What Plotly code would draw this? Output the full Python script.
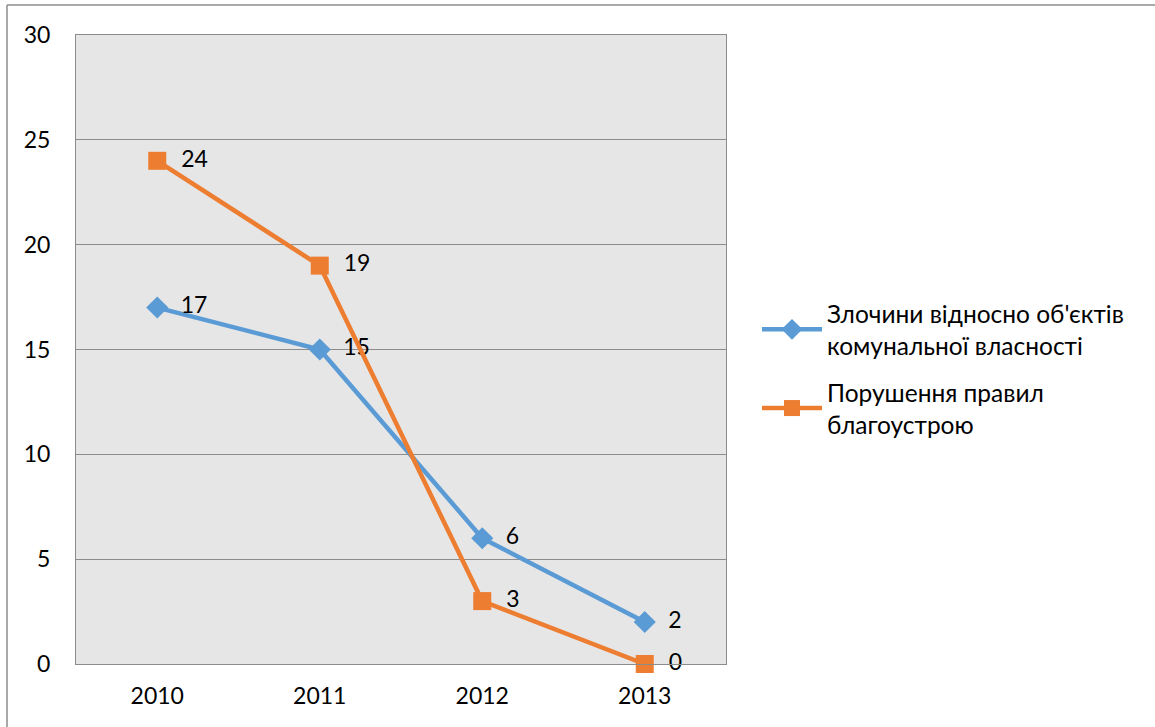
import plotly.graph_objects as go

years = ["2010", "2011", "2012", "2013"]
crimes = [17, 15, 6, 2]
violations = [24, 19, 3, 0]
name_crimes = "Злочини відносно об'єктів<br>комунальної власності"
name_viol = "Порушення правил<br>благоустрою"
y_ticks = [0, 5, 10, 15, 20, 25, 30]

FONT = "Lato"
FS = 23

PL, PR, PT, PB = 76, 726, 35, 664
PW, PH = PR - PL, PB - PT

fig = go.Figure()
fig.add_trace(go.Scatter(
    x=years, y=crimes, name=name_crimes, mode="lines+markers+text",
    legendgroup="a", cliponaxis=False,
    text=["&nbsp;&nbsp;" + str(v) for v in crimes], textposition="middle right",
    textfont=dict(size=FS, color="black", family=FONT),
    line=dict(color="#5B9BD5", width=4.5),
    marker=dict(symbol="diamond", size=17, color="#5B9BD5"),
))
fig.add_trace(go.Scatter(
    x=years, y=violations, name=name_viol, mode="lines+markers+text",
    legendgroup="b", cliponaxis=False,
    text=["&nbsp;&nbsp;" + str(v) for v in violations], textposition="middle right",
    textfont=dict(size=FS, color="black", family=FONT),
    line=dict(color="#ED7D31", width=4.5),
    marker=dict(symbol="square", size=18, color="#ED7D31"),
))

# outer border (top and left edges)
fig.add_shape(type="line", xref="paper", yref="paper",
              x0=(7 - PL) / PW, x1=(1160 - PL) / PW,
              y0=(PB - 5) / PH, y1=(PB - 5) / PH,
              line=dict(color="#8c8c8c", width=1.5))
fig.add_shape(type="line", xref="paper", yref="paper",
              x0=(7 - PL) / PW, x1=(7 - PL) / PW,
              y0=(PB - 5) / PH, y1=(PB - 730) / PH,
              line=dict(color="#8c8c8c", width=1.5))

fig.update_layout(
    width=1155, height=727,
    margin=dict(l=PL, r=1155 - PR, t=PT, b=727 - PB),
    paper_bgcolor="white", plot_bgcolor="#E6E6E6",
    font=dict(family=FONT, size=FS, color="black"),
    showlegend=True,
    legend=dict(x=(757 - PL) / PW, y=(PB - 369) / PH, xanchor="left", yanchor="middle",
                font=dict(size=24.5, family=FONT), tracegroupgap=12,
                itemwidth=60, bgcolor="rgba(0,0,0,0)"),
)
fig.update_xaxes(type="category", range=[-0.5, 3.5], showgrid=False,
                 ticks="outside", ticklen=11, tickcolor="rgba(0,0,0,0)",
                 showline=True, linecolor="#8c8c8c", linewidth=1, mirror=True,
                 tickfont=dict(size=FS))
fig.update_yaxes(range=[0, 30], tickvals=y_ticks, showgrid=True,
                 gridcolor="#8c8c8c", gridwidth=1,
                 ticks="outside", ticklen=20, tickcolor="rgba(0,0,0,0)",
                 showline=True, linecolor="#8c8c8c", linewidth=1, mirror=True,
                 zeroline=False, tickfont=dict(size=FS))

fig.write_html("out.html", config={"displayModeBar": False},
               post_script="document.body.style.margin='0';")
